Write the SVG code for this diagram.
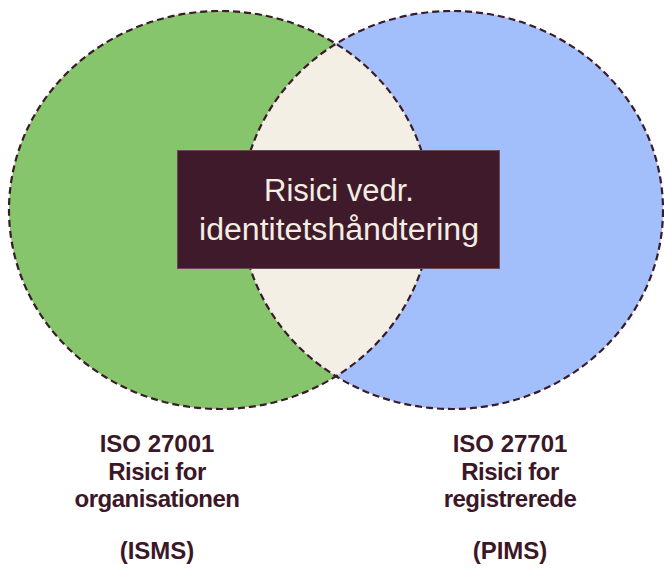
<svg xmlns="http://www.w3.org/2000/svg" width="664" height="575" viewBox="0 0 664 575">
  <style>
    .outline { fill: none; stroke: #3b1a29; stroke-width: 2.2; stroke-dasharray: 7 4; }
    .label { font-family: "Liberation Sans", Arial, sans-serif; font-weight: bold; font-size: 24px; fill: #3b1727; text-anchor: middle; }
    .tight { letter-spacing: -0.5px; }
    .center { font-family: "Liberation Sans", Arial, sans-serif; font-size: 31px; fill: #f3ede2; text-anchor: middle; }
  </style>
  <defs>
    <clipPath id="clipLeft">
      <ellipse cx="220" cy="210" rx="211" ry="199"/>
    </clipPath>
  </defs>
  <rect width="664" height="575" fill="#ffffff"/>

  <!-- the two risk areas and their shared part -->
  <g id="isms">
    <ellipse cx="220" cy="210" rx="211" ry="199" fill="#86c56c"/>
  </g>
  <g id="pims">
    <ellipse cx="452" cy="210" rx="211" ry="199" fill="#a2bffc"/>
  </g>
  <g id="overlap">
    <ellipse cx="452" cy="210" rx="211" ry="199" fill="#f4efe5" clip-path="url(#clipLeft)"/>
  </g>

  <g id="outlines">
    <ellipse class="outline" cx="220" cy="210" rx="211" ry="199"/>
    <ellipse class="outline" cx="452" cy="210" rx="211" ry="199"/>
  </g>

  <g id="identity-risks">
    <rect x="177.5" y="150.5" width="322" height="118" fill="#3f1a2a" stroke="#6a4a58" stroke-width="1"/>
    <text class="center" x="339" y="201">Risici vedr.</text>
    <text class="center" x="339" y="240" textLength="280" lengthAdjust="spacingAndGlyphs">identitetshåndtering</text>
  </g>

  <g id="isms-label">
    <text class="label" x="157" y="452">ISO 27001</text>
    <text class="label tight" x="157" y="480">Risici for</text>
    <text class="label tight" x="157" y="507">organisationen</text>
    <text class="label" x="157" y="559">(ISMS)</text>
  </g>

  <g id="pims-label">
    <text class="label" x="510" y="452">ISO 27701</text>
    <text class="label tight" x="510" y="480">Risici for</text>
    <text class="label tight" x="510" y="507">registrerede</text>
    <text class="label" x="510" y="559">(PIMS)</text>
  </g>
</svg>
